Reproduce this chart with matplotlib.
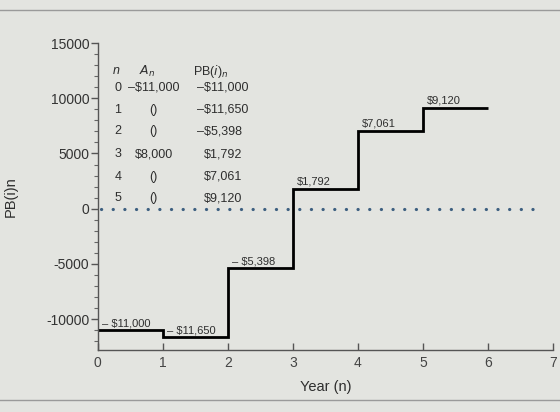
import matplotlib.pyplot as plt
from matplotlib.lines import Line2D
from matplotlib.ticker import MultipleLocator

plt.rcParams["font.family"] = ["Liberation Sans", "DejaVu Sans"]
plt.rcParams["axes.unicode_minus"] = False

# payback data
years = [0, 1, 2, 3, 4, 5, 6]
pb_values = [-11000, -11650, -5398, 1792, 7061, 9120]
step_labels = ["– $11,000", "– $11,650", "– $5,398", "$1,792", "$7,061", "$9,120"]

# table in the upper left
table_n = ["0", "1", "2", "3", "4", "5"]
table_an = ["–$11,000", "()", "()", "$8,000", "()", "()"]
table_pb = ["–$11,000", "–$11,650", "–$5,398", "$1,792", "$7,061", "$9,120"]

BG = "#e3e4e0"
TXT = "#2e2e2e"

fig = plt.figure(figsize=(5.6, 4.12), dpi=100, facecolor=BG)
ax = fig.add_axes([0.1745, 0.1505, 0.813, 0.745], facecolor=BG)

# zero line
ax.plot([0.05, 6.85], [0, 0], linestyle=(0, (0.05, 3.6)), color="#3d5f80",
        linewidth=2.3, dash_capstyle="round")

ax.stairs(pb_values, years, baseline=None, color="black", linewidth=2.0)

for x0, v, lab in zip(years[:-1], pb_values, step_labels):
    ax.annotate(lab, (x0 + 0.06, v), xytext=(0, 1.5), textcoords="offset points",
                fontsize=8, color=TXT, ha="left", va="bottom")

# table
row_y = [10950, 8950, 7000, 4950, 2900, 950]
ax.text(0.28, 12450, "n", fontsize=9, color=TXT, style="italic", ha="center", va="center")
ax.text(0.76, 12450, "$A_n$", fontsize=9, color=TXT, ha="center", va="center")
ax.text(1.74, 12450, "PB($i$)$_n$", fontsize=9, color=TXT, ha="center", va="center")
for y, n, a, p in zip(row_y, table_n, table_an, table_pb):
    ax.text(0.31, y, n, fontsize=9, color=TXT, ha="center", va="center")
    ax.text(0.86, y, a, fontsize=9, color=TXT, ha="center", va="center")
    px = 1.53 if p.startswith("–") else 1.63
    ax.text(px, y, p, fontsize=9, color=TXT, ha="left", va="center")

ax.set_xlim(0, 7)
ax.set_ylim(-12800, 15000)
ax.set_xticks(range(0, 8))
ax.set_yticks([-10000, -5000, 0, 5000, 10000, 15000])
ax.yaxis.set_minor_locator(MultipleLocator(1000))
ax.tick_params(axis="x", direction="in", length=5, width=1, colors="#555555",
               labelcolor="#444444", labelsize=10, pad=4)
ax.tick_params(axis="y", which="major", direction="out", length=5, width=1,
               colors="#555555", labelcolor="#333333", labelsize=10, pad=1)
ax.tick_params(axis="y", which="minor", direction="out", length=3, width=0.8,
               colors="#666666")

for side in ["top", "right"]:
    ax.spines[side].set_visible(False)
for side in ["left", "bottom"]:
    ax.spines[side].set_color("#555555")
    ax.spines[side].set_linewidth(1.0)

ax.set_xlabel("Year (n)", fontsize=10.5, color=TXT)
ax.xaxis.set_label_coords(0.5, -0.098)
ax.set_ylabel("PB(i)n", fontsize=10.5, color=TXT)
ax.yaxis.set_label_coords(-0.175, 0.5)

# photo frame lines
fig.add_artist(Line2D([0, 1], [0.976, 0.976], color="#9a9a9a", linewidth=1.0))
fig.add_artist(Line2D([0, 1], [0.029, 0.029], color="#9a9a9a", linewidth=1.0))

fig.savefig("out.png", dpi=100, facecolor=BG)
